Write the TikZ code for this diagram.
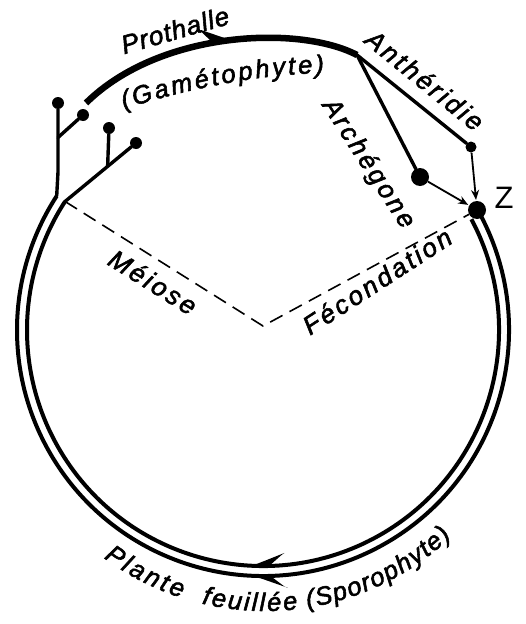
\documentclass[tikz,border=0pt]{standalone}
\usepackage{fontspec}
\setmainfont{Liberation Sans}
\newfontfamily\labfont[LetterSpace=11, FakeBold=2.2]{Liberation Sans}
\newfontfamily\protfont[LetterSpace=4, FakeBold=2.2]{Liberation Sans}
\newfontfamily\btsfont[FakeBold=2.2]{Liberation Sans}
\usetikzlibrary{arrows.meta,decorations.text,calc}
\newcommand\btfont{\btsfont\itshape\fontsize{25.5}{25.5}\selectfont}
\begin{document}
\begin{tikzpicture}[x=1pt,y=-1pt,
  circ/.style={line width=4pt, line join=round},
  stalk/.style={line width=3.4pt, line cap=round, line join=round},
  dot/.style={circle, fill=black, inner sep=0pt, minimum size=#1},
  lab/.style={font=\labfont\itshape\fontsize{26}{26}\selectfont, inner sep=0pt},
  dashline/.style={line width=1.6pt, dash pattern=on 14pt off 8pt},
  arr/.style={line width=1.8pt, -{Stealth[length=10pt,width=8pt]}, shorten >=1pt},
  curvetext/.style={decorate, decoration={text along path, text={#1}, text align={fit to path}}}
]
\useasboundingbox (0,0) rectangle (525,624);
\coordinate (c) at (263,330);
\coordinate (b) at (265,340);
\coordinate (ctr) at (263,326);
\coordinate (corner) at (357,55);
\coordinate (pstart) at (86,103);
\coordinate (sbend) at (58,172);
% dots
\node[dot=18pt] (Z) at (477,210) {};
\node[dot=12pt] (d1) at (58,103) {};
\node[dot=12pt] (d2) at (83,115) {};
\node[dot=12pt] (d3) at (109,128) {};
\node[dot=12pt] (d4) at (136,143) {};
\node[dot=18pt] (arch) at (420,177) {};
\node[dot=11pt] (anth) at (471,147) {};
% double circle
\draw[circ] ([shift={(-28:246)}]c) arc[start angle=-28,end angle=213,radius=246] coordinate (oend);
\draw[circ] ([shift={(-28:236)}]c) arc[start angle=-28,end angle=213,radius=236] coordinate (iend);
% harpoons on the double circle
\fill ([shift={(92.6:236)}]c) -- ([shift={(84.5:224)}]c) -- ([shift={(85.2:225.5)}]c) -- ([shift={(88.5:236)}]c) -- cycle;
\fill ([shift={(92.2:246)}]c) -- ([shift={(84.5:259)}]c) -- ([shift={(85.2:257.5)}]c) -- ([shift={(88.3:246)}]c) -- cycle;
% stalks
\draw[stalk] (oend) -- (sbend) -- (d1);
\coordinate (sb) at ($(d1)!0.5!(sbend)$);
\draw[stalk] (sb) -- (d2);
\draw[stalk] (iend) -- (d4);
\coordinate (ib) at ($(iend)!0.6!(d4)$);
\draw[stalk] (ib) -- (d3);
% prothalle
\draw[line width=6.5pt] (pstart) .. controls (160,30) and (300,25) .. (corner);
\fill (229,39.5) -- (201,30) -- (202,32.5) -- (212,42) -- cycle;
\draw[stalk] (corner) -- (arch);
\draw[stalk] (corner) -- (anth);
% arrows
\draw[arr] (anth) -- (Z);
\draw[arr] (arch) -- (Z);
% dashed
\draw[dashline] (iend) -- (ctr) -- (Z);
% labels
\node[lab, font=\protfont\itshape\fontsize{26}{26}\selectfont, rotate=16] (proth) at (175,30) {Prothalle};
\path[curvetext={|\btfont|(Gamétophyte)}] (124,109) .. controls (190,88) and (260,74) .. (324,73);
\node[lab, rotate=-39] (anthl) at (425,80) {Anthéridie};
\node[lab, rotate=-57] (archl) at (368,164) {Archégone};
\node[lab, rotate=-32] (meil) at (153,282) {Méiose};
\node[lab, rotate=33] (fecl) at (377,281) {Fécondation};
\node[font=\fontsize{31}{31}\selectfont, inner sep=0pt] (zl) at (504,198) {Z};
\path[curvetext={|\btfont|Plante}] ([shift={(126.5:271)}]b) arc[start angle=126.5,end angle=108,radius=271];
\path[curvetext={|\btfont|feuillée}] ([shift={(103.5:271)}]b) arc[start angle=103.5,end angle=83,radius=271];
\path[curvetext={|\btfont|(Sporophyte)}] ([shift={(81:271)}]b) arc[start angle=81,end angle=46.5,radius=271];
\end{tikzpicture}
\end{document}
